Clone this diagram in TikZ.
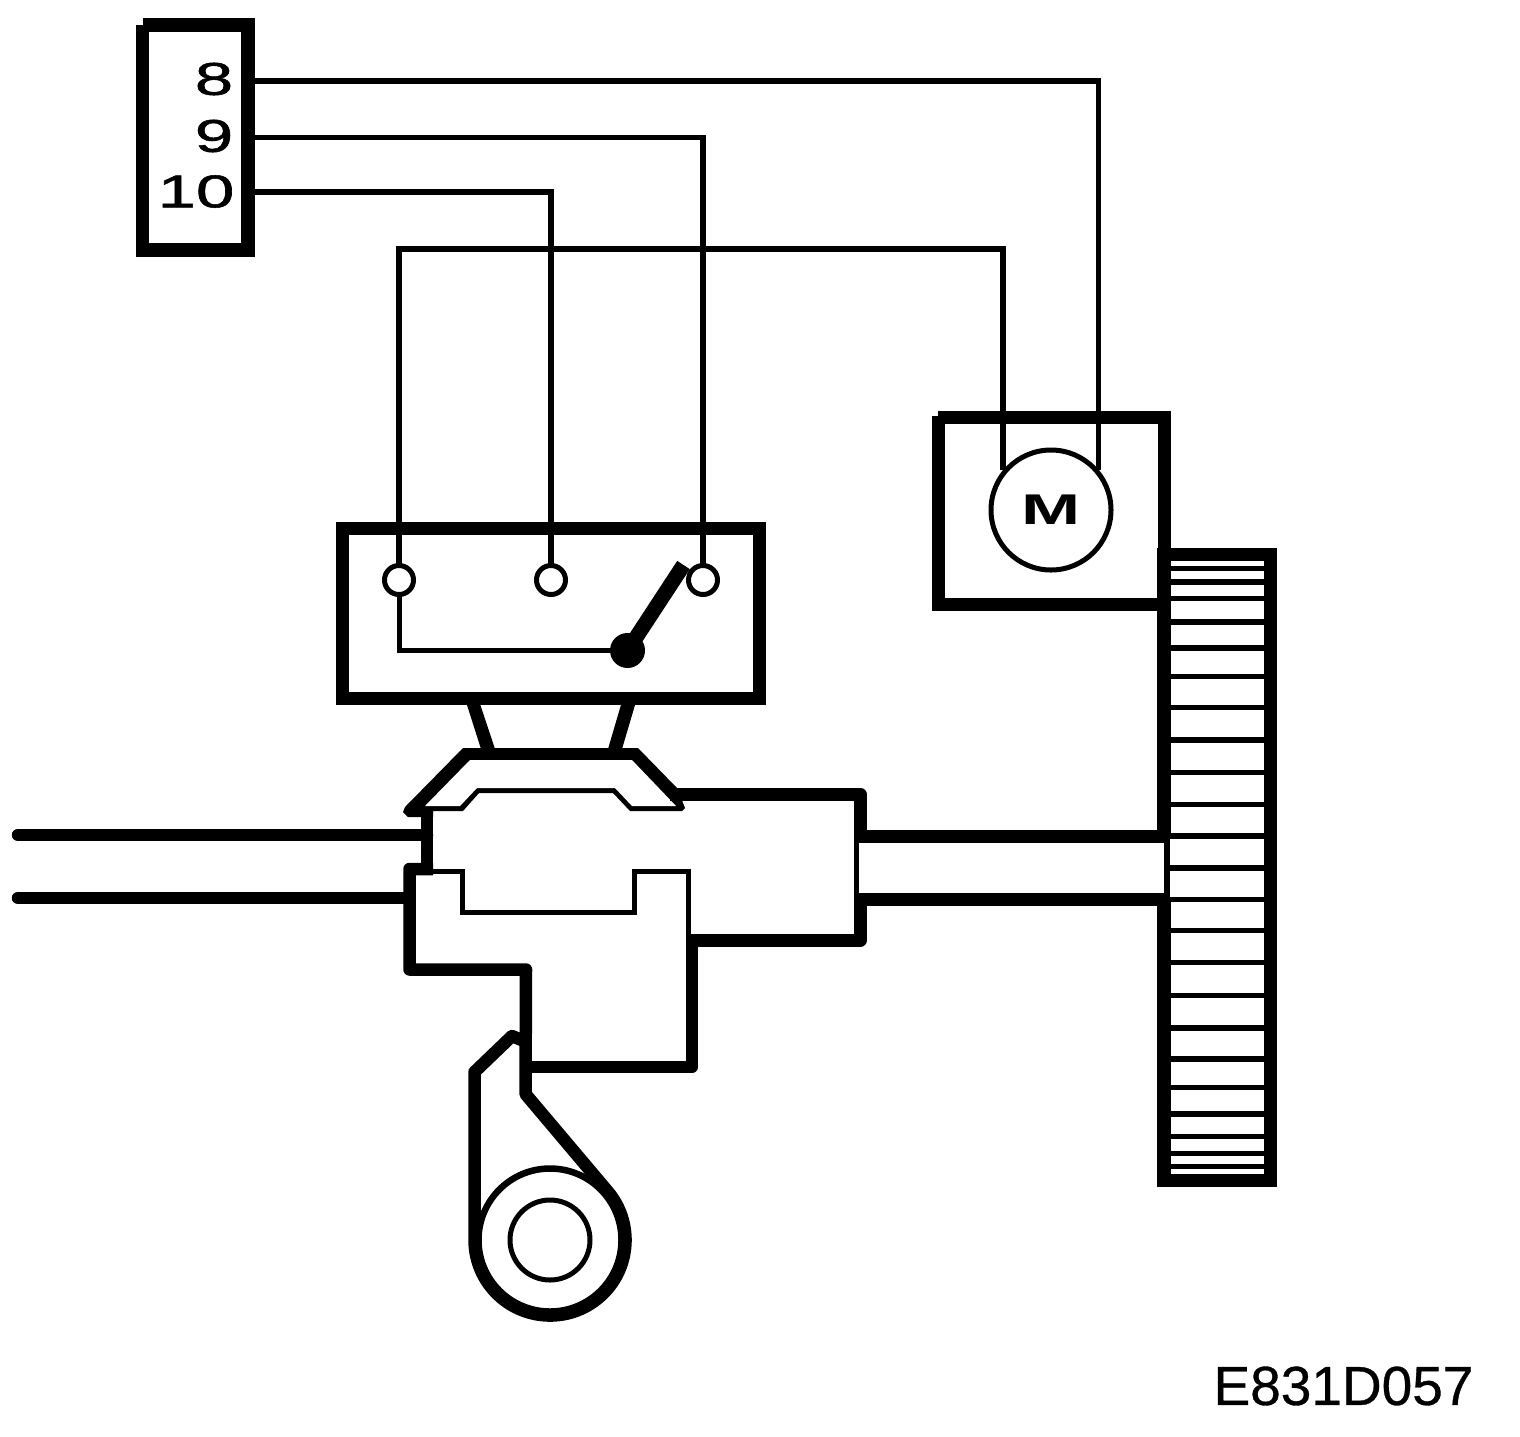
\documentclass[tikz,border=0pt]{standalone}
\usepackage{fontspec}
\setmainfont{Liberation Sans}
\newfontfamily\codefont[FakeBold=0.6]{Liberation Sans}
\newfontfamily\pinfont[FakeBold=1.0]{Liberation Sans}
\tikzset{
  thick line/.style={line width=12.5pt,line join=round,line cap=butt},
  wire/.style={line width=5.5pt,line join=miter},
  thin body/.style={line width=5pt,line join=miter},
  housing/.style={draw,line width=13pt,inner sep=0pt,outer sep=0pt,anchor=north west},
  contact/.style={circle,draw,line width=5pt,minimum size=29pt,inner sep=0pt,outer sep=0pt,fill=white},
  pinlabel/.style={inner sep=0pt,font=\pinfont\fontsize{46}{46}\selectfont},
}
\begin{document}
\begin{tikzpicture}[x=1pt,y=-1pt]
\useasboundingbox (0,0) rectangle (1520,1436);
% connector
\node[housing,line width=13.5pt,minimum width=105.5pt,minimum height=225pt] (conn) at (142.5,25) {};
\fill[white] (135,17) rectangle (143,24.5);
\node[pinlabel] (p8) at (214,79) {\scalebox{1.5}[1]{8}};
\node[pinlabel] (p9) at (214,136) {\scalebox{1.5}[1]{9}};
\node[pinlabel] (p10) at (196,191.5) {\scalebox{1.5}[1]{10}};
\coordinate (w8) at (248,81);
\coordinate (w9) at (248,137.5);
\coordinate (w10) at (248,192);
% motor
\node[housing,minimum width=225.5pt,minimum height=187pt] (mbox) at (938.5,417.5) {};
\fill[white] (931,410) rectangle (938,416);
\node[circle,draw,line width=5pt,minimum size=120pt,inner sep=0pt,outer sep=0pt] (motor) at (1051,510) {};
\node[inner sep=0pt,font=\fontsize{43}{43}\selectfont\bfseries] (mlabel) at (1051.5,510) {\scalebox{1.65}[1]{M}};
\coordinate (m8) at (1098.5,470);
\coordinate (m10) at (1003,470);
% switch box
\node[housing,minimum width=417pt,minimum height=170pt] (sbox) at (342.5,528.5) {};
\node[contact] (c1) at (399,580) {};
\node[contact] (c2) at (551,580) {};
\node[contact] (c3) at (703,580) {};
\coordinate (pivot) at (627.5,650.5);
\coordinate (swtip) at (683.5,565);
\draw[wire,line width=5pt] (c1.south) |- (pivot);
\draw[line width=15pt] (pivot) -- (swtip);
\fill (pivot) circle (17.5pt);
% wires
\draw[wire] (w8) -| (m8);
\draw[wire] (w9) -| (c3.north);
\draw[wire] (w10) -| (c2.north);
\draw[wire] (c1.north) |- (m10 |- 0,249) -- (m10);
% plunger legs
\fill (467,705) -- (472,698) -- (478,698) -- (495,749) -- (481,749) -- cycle;
\fill (623,698) -- (630,698) -- (635,705) -- (622,749) -- (608,749) -- cycle;
% plunger cap
\fill[line join=round] (463,748) -- (638,748) -- (677,788) -- (685,808) -- (682,811) -- (630,811) -- (613,793) -- (479,793) -- (463,811) -- (433,811) -- (433,817) -- (408,817) -- (403,812) -- (405,807) -- cycle;
\fill[white] (470,760) -- (632,760) -- (676,806) -- (632,806) -- (615,788) -- (477,788) -- (460,806) -- (425,806) -- cycle;
% body
\draw[thick line,line width=13pt] (670,794.5) -- (860.5,794.5) -- (860.5,832);
\draw[thick line,line width=13pt] (860.5,895) -- (860.5,940) -- (692,940);
\draw[line width=5pt] (856.5,830) -- (856.5,896);
\draw[thick line] (427,810) -- (427,874);
\draw[thick line] (433,869) -- (409.5,869) -- (409.5,969.5) -- (526,969.5) -- (525.5,1094) -- (607,1190.5) arc[start angle=41,end angle=-180,radius=75.5pt] -- (474.5,1072) -- (512,1036) -- (524,1041);
\draw[thick line] (526,1067) -- (692,1067) -- (692,934);
\draw[thin body] (430,871.5) -- (462.5,871.5) -- (462.5,912.5) -- (634.5,912.5) -- (634.5,871.5) -- (688.5,871.5) -- (688.5,940);
% cam
\draw[line width=6.5pt] (550,1240) circle (71.5pt);
\draw[line width=5pt] (550,1240) circle (40pt);
% shafts and levers
\draw[line width=12.5pt,line cap=round] (18,835) -- (427,835);
\draw[line width=12.5pt,line cap=round] (18,898) -- (404,898);
\draw[line width=12.5pt] (858,836.5) -- (1164,836.5);
\draw[line width=12.5pt] (858,899.5) -- (1164,899.5);
% gear
\fill (1157,548) rectangle (1277,1187);
\fill[white] (1157,842.75) rectangle (1164,893.25);
\foreach \a/\b in {561/566,571/579,585/596,601/619,625/645,651/674,679/705,710/737,743/770,775/802,807/833,902/928,933/960,965/993,998/1025,1031/1056,1062/1085,1090/1111,1117/1134,1139/1151,1156/1164,1169/1174}
  \fill[white] (1171,\a) rectangle (1264,\b);
\foreach \a/\b in {839/865,871/897}
  \fill[white] (1170,\a) rectangle (1264,\b);
\node[inner sep=0pt,font=\codefont\fontsize{55}{55}\selectfont] (code) at (1343.5,1386) {E831D057};
\end{tikzpicture}
\end{document}
